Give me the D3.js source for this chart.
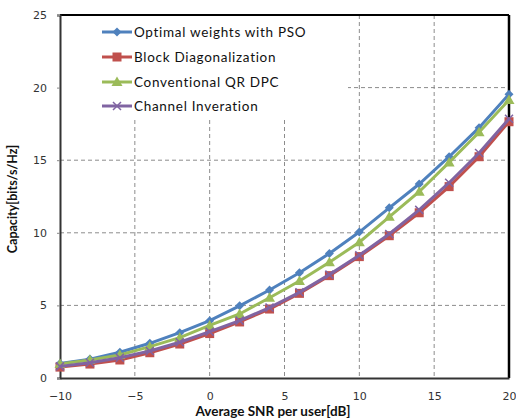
<!DOCTYPE html>
<html><head><meta charset="utf-8">
<script src="https://cdn.jsdelivr.net/npm/d3@7"></script>
<style>body{margin:0;background:#fff}svg{display:block}</style>
</head><body>
<script>
const snr = [-10,-8,-6,-4,-2,0,2,4,6,8,10,12,14,16,18,20];
const pso = [1.0,1.3,1.77,2.39,3.12,3.95,4.97,6.06,7.25,8.58,10.05,11.72,13.36,15.24,17.24,19.55];
const bd  = [0.75,0.96,1.24,1.74,2.34,3.06,3.86,4.75,5.83,7.05,8.36,9.8,11.38,13.18,15.24,17.65];
const qr  = [0.96,1.24,1.58,2.16,2.78,3.62,4.41,5.53,6.68,7.97,9.35,11.1,12.83,14.85,16.92,19.15];
const ci  = [0.8,1.05,1.4,1.86,2.46,3.19,3.95,4.85,5.9,7.12,8.45,9.92,11.58,13.45,15.5,17.85];
const seriesNames = ["Optimal weights with PSO","Block Diagonalization","Conventional QR DPC","Channel Inveration"];
const xTicks = [-10,-5,0,5,10,15,20];
const yTicks = [0,5,10,15,20,25];

const W=516,H=419;
const m={l:60,t:15,r:509,b:378};
const svg=d3.select("body").append("svg").attr("width",W).attr("height",H);
const x=d3.scaleLinear().domain([-10,20]).range([m.l,m.r]);
const y=d3.scaleLinear().domain([0,25]).range([m.b,m.t]);

// grid
const g=svg.append("g");
g.selectAll(".vg").data(xTicks.slice(1,-1)).join("line")
 .attr("x1",d=>x(d)).attr("x2",d=>x(d)).attr("y1",m.t).attr("y2",m.b)
 .attr("stroke","#8c8c8c").attr("stroke-width",1).attr("stroke-dasharray","4,3");
g.selectAll(".hg").data(yTicks.slice(1,-1)).join("line")
 .attr("x1",m.l).attr("x2",m.r).attr("y1",d=>y(d)).attr("y2",d=>y(d))
 .attr("stroke","#8c8c8c").attr("stroke-width",1).attr("stroke-dasharray","4,3");

// legend background (covers grid)
svg.append("rect").attr("x",m.l+1).attr("y",m.t+1).attr("width",287).attr("height",101).attr("fill","#fff");

// frame
svg.append("line").attr("x1",m.l).attr("x2",m.r).attr("y1",m.t).attr("y2",m.t).attr("stroke","#000").attr("stroke-width",2);
svg.append("line").attr("x1",m.r).attr("x2",m.r).attr("y1",m.t).attr("y2",m.b).attr("stroke","#000").attr("stroke-width",2.5);

// axes
const font="Lato, 'Open Sans', sans-serif";
const tickFont="'DejaVu Sans', Verdana, sans-serif";
const xa=svg.append("g").attr("transform",`translate(0,${m.b})`)
 .call(d3.axisBottom(x).tickValues(xTicks).tickSize(0).tickPadding(14));
const ya=svg.append("g").attr("transform",`translate(${m.l},0)`)
 .call(d3.axisLeft(y).tickValues(yTicks).tickSize(3).tickPadding(10));
[xa,ya].forEach(a=>{
 a.select(".domain").attr("stroke","#333").attr("stroke-width",2);
 a.selectAll("text").attr("font-family",tickFont).attr("font-size",11).attr("fill","#333");
 a.selectAll(".tick line").attr("stroke","#888");
});

// axis titles
svg.append("text").attr("x",273).attr("y",416).attr("text-anchor","middle")
 .attr("font-family",font).attr("font-weight","bold").attr("font-size",13.5).attr("fill","#111")
 .text("Average SNR per user[dB]");
svg.append("text").attr("transform","translate(17,199) rotate(-90)").attr("text-anchor","middle")
 .attr("font-family",font).attr("font-weight","bold").attr("font-size",12.5).attr("fill","#111")
 .text("Capacity[bits/s/Hz]");

const colors=["#4F81BD","#C0504D","#9BBB59","#8064A2"];
const data=[pso,bd,qr,ci];
const shapes=["diamond","square","triangle","x"];
function marker(sel,shape,c){
 if(shape==="diamond") sel.append("path").attr("d","M0,-4.5L4.5,0L0,4.5L-4.5,0Z").attr("fill",c);
 else if(shape==="square") sel.append("rect").attr("x",-4.5).attr("y",-4.5).attr("width",9).attr("height",9).attr("fill",c);
 else if(shape==="triangle") sel.append("path").attr("d","M0,-5.5L5.5,4L-5.5,4Z").attr("fill",c);
 else sel.append("path").attr("d","M-4,-4L4,4M-4,4L4,-4").attr("stroke",c).attr("stroke-width",1.5).attr("fill","none");
}
const line=d3.line().x((d,i)=>x(snr[i])).y(d=>y(d));
data.forEach((s,k)=>{
 const gs=svg.append("g");
 gs.append("path").datum(s).attr("d",line).attr("fill","none").attr("stroke",colors[k]).attr("stroke-width",3);
 s.forEach((v,i)=>{
  const mk=gs.append("g").attr("transform",`translate(${x(snr[i])},${y(v)})`);
  marker(mk,shapes[k],colors[k]);
 });
});

// legend
const lg=svg.append("g");
seriesNames.forEach((n,k)=>{
 const yy=[32,57,82,106][k];
 lg.append("line").attr("x1",102).attr("x2",132).attr("y1",yy).attr("y2",yy).attr("stroke",colors[k]).attr("stroke-width",3);
 const mk=lg.append("g").attr("transform",`translate(117,${yy})`);
 marker(mk,shapes[k],colors[k]);
 lg.append("text").attr("x",134).attr("y",yy+4.5).attr("font-family",font).attr("font-size",13.5)
  .attr("letter-spacing",0.7).attr("fill","#111").text(n);
});
</script>
</body></html>
